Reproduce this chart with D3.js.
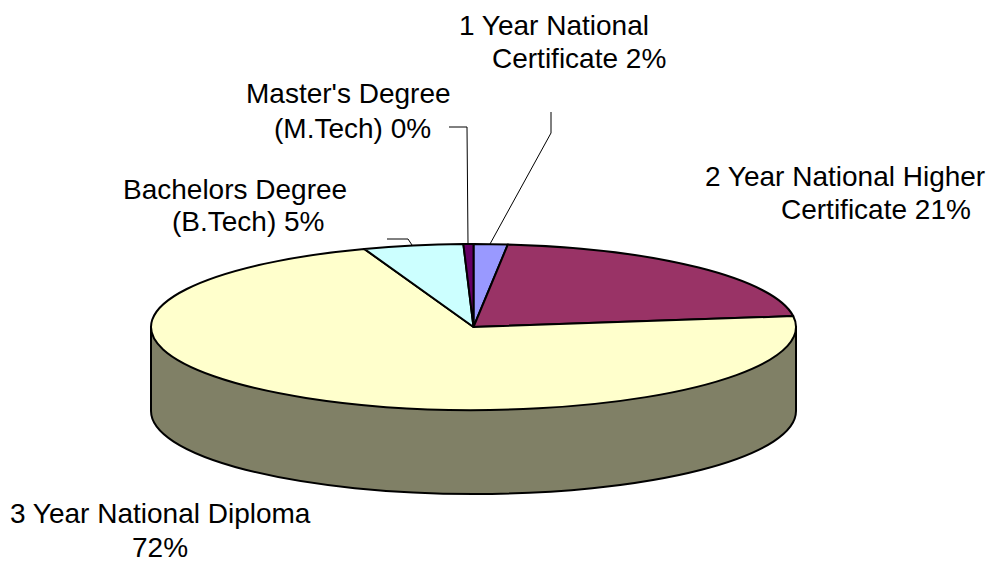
<!DOCTYPE html>
<html>
<head>
<meta charset="utf-8">
<script src="https://d3js.org/d3.v7.min.js"></script>
<style>
  html, body { margin: 0; padding: 0; background: #fff; }
  svg { display: block; }
  text { font-family: "Liberation Sans", Arial, sans-serif; font-size: 28px; fill: #000; }
</style>
</head>
<body>
<div id="chart"></div>
<script>
    // data, clockwise from 12 o'clock
    const categories = ["1 Year National Certificate", "2 Year National Higher Certificate", "3 Year National Diploma", "Bachelors Degree (B.Tech)", "Master's Degree (M.Tech)"];
    const values = [1.7, 21.2, 71.6, 5.0, 0.5];
    const colors = ["#9999ff", "#993366", "#ffffcc", "#ccffff", "#660066"];
    const labelLines = [
        [["1 Year National", 459, 35], ["Certificate 2%", 492, 68]],
        [["2 Year National Higher", 705, 186], ["Certificate 21%", 781, 219]],
        [["3 Year National Diploma", 10, 523], ["72%", 132, 557]],
        [["Bachelors Degree", 123, 199], ["(B.Tech) 5%", 172, 231]],
        [["Master's Degree", 246, 103], ["(M.Tech) 0%", 274, 138]]
    ];

    const width = 992, height = 561;
    const cx = 473.5, cy = 327, rx = 322.5, ry = 83, depth = 84;

    const svg = d3.select("#chart").append("svg")
        .attr("width", width)
        .attr("height", height);

    // side wall of the cylinder
    svg.append("path")
        .attr("d", `M${cx - rx},${cy} L${cx - rx},${cy + depth} A${rx},${ry} 0 0 0 ${cx + rx},${cy + depth} L${cx + rx},${cy} Z`)
        .attr("fill", "#808066")
        .attr("stroke", "#000")
        .attr("stroke-width", 2);

    // top face: normal pie squashed into an ellipse
    const pie = d3.pie().sort(null).value(d => d);
    const arcGenerator = d3.arc().innerRadius(0).outerRadius(rx);

    svg.append("g")
        .attr("transform", `translate(${cx},${cy}) scale(1,${ry / rx})`)
        .selectAll("path")
        .data(pie(values))
        .join("path")
        .attr("d", arcGenerator)
        .attr("fill", (d, i) => colors[i])
        .attr("stroke", "#000")
        .attr("stroke-width", 2)
        .attr("stroke-linejoin", "round")
        .attr("vector-effect", "non-scaling-stroke");

    // leader lines
    const leaders = [
        [[551, 112], [551, 133], [490, 244]],
        [[449, 127], [467, 127], [468, 244]],
        [[387, 239], [408, 239], [412, 245]]
    ];
    const line = d3.line();
    svg.selectAll(".leader")
        .data(leaders)
        .join("path")
        .attr("class", "leader")
        .attr("d", line)
        .attr("fill", "none")
        .attr("stroke", "#000")
        .attr("stroke-width", 1);

    // labels
    svg.selectAll(".label")
        .data(labelLines.flat())
        .join("text")
        .attr("class", "label")
        .attr("x", d => d[1])
        .attr("y", d => d[2])
        .text(d => d[0]);
</script>
</body>
</html>
